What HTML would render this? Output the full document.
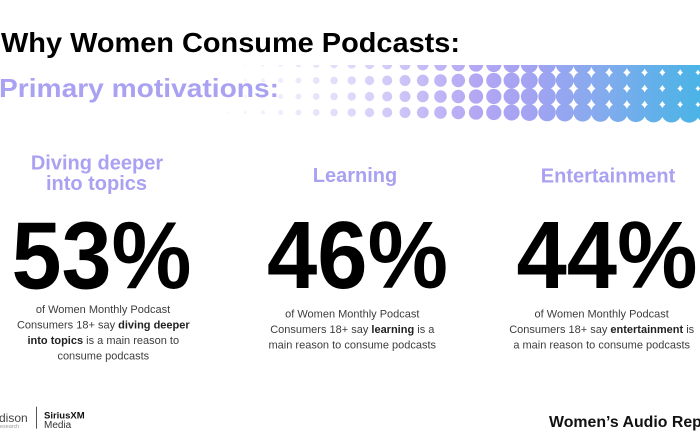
<!DOCTYPE html>
<html>
<head>
<meta charset="utf-8">
<style>
html,body{margin:0;padding:0;background:#fff;}
body{width:700px;height:441px;overflow:hidden;}
svg{display:block;}
text{font-family:"Liberation Sans",Arial,sans-serif;}
</style>
</head>
<body>
<svg width="700" height="441" viewBox="0 0 700 441" xmlns="http://www.w3.org/2000/svg">
  <defs>
    <linearGradient id="g" gradientUnits="userSpaceOnUse" x1="230" y1="0" x2="700" y2="0">
      <stop offset="0" stop-color="#f8f7fe"/>
      <stop offset="0.15" stop-color="#ebe8fc"/>
      <stop offset="0.28" stop-color="#dbd5fa"/>
      <stop offset="0.40" stop-color="#c7bdf6"/>
      <stop offset="0.53" stop-color="#b3a6f3"/>
      <stop offset="0.66" stop-color="#9fa3f2"/>
      <stop offset="0.79" stop-color="#84abee"/>
      <stop offset="0.89" stop-color="#66afea"/>
      <stop offset="1" stop-color="#4ab4e6"/>
    </linearGradient>
    <clipPath id="band"><rect x="0" y="65" width="700" height="70"/></clipPath>
  </defs>
  <rect width="700" height="441" fill="#fff"/>

  <g clip-path="url(#band)" fill="url(#g)">
    <g><circle cx="227.4" cy="64.5" r="1.2"/><circle cx="227.4" cy="80.5" r="1.2"/><circle cx="227.4" cy="96.5" r="1.2"/><circle cx="227.4" cy="112.5" r="1.2"/></g>
    <g><circle cx="245.2" cy="64.5" r="1.62"/><circle cx="245.2" cy="80.5" r="1.62"/><circle cx="245.2" cy="96.5" r="1.62"/><circle cx="245.2" cy="112.5" r="1.62"/></g>
    <g><circle cx="262.9" cy="64.5" r="2.05"/><circle cx="262.9" cy="80.5" r="2.05"/><circle cx="262.9" cy="96.5" r="2.05"/><circle cx="262.9" cy="112.5" r="2.05"/></g>
    <g><circle cx="280.7" cy="64.5" r="2.48"/><circle cx="280.7" cy="80.5" r="2.48"/><circle cx="280.7" cy="96.5" r="2.48"/><circle cx="280.7" cy="112.5" r="2.48"/></g>
    <g><circle cx="298.4" cy="64.5" r="2.9"/><circle cx="298.4" cy="80.5" r="2.9"/><circle cx="298.4" cy="96.5" r="2.9"/><circle cx="298.4" cy="112.5" r="2.9"/></g>
    <g><circle cx="316.2" cy="64.5" r="3.33"/><circle cx="316.2" cy="80.5" r="3.33"/><circle cx="316.2" cy="96.5" r="3.33"/><circle cx="316.2" cy="112.5" r="3.33"/></g>
    <g><circle cx="334" cy="64.5" r="3.76"/><circle cx="334" cy="80.5" r="3.76"/><circle cx="334" cy="96.5" r="3.76"/><circle cx="334" cy="112.5" r="3.76"/></g>
    <g><circle cx="351.7" cy="64.5" r="4.18"/><circle cx="351.7" cy="80.5" r="4.18"/><circle cx="351.7" cy="96.5" r="4.18"/><circle cx="351.7" cy="112.5" r="4.18"/></g>
    <g><circle cx="369.5" cy="64.5" r="4.61"/><circle cx="369.5" cy="80.5" r="4.61"/><circle cx="369.5" cy="96.5" r="4.61"/><circle cx="369.5" cy="112.5" r="4.61"/></g>
    <g><circle cx="387.2" cy="64.5" r="5.03"/><circle cx="387.2" cy="80.5" r="5.03"/><circle cx="387.2" cy="96.5" r="5.03"/><circle cx="387.2" cy="112.5" r="5.03"/></g>
    <g><circle cx="405" cy="64.5" r="5.46"/><circle cx="405" cy="80.5" r="5.46"/><circle cx="405" cy="96.5" r="5.46"/><circle cx="405" cy="112.5" r="5.46"/></g>
    <g><circle cx="422.8" cy="64.5" r="5.89"/><circle cx="422.8" cy="80.5" r="5.89"/><circle cx="422.8" cy="96.5" r="5.89"/><circle cx="422.8" cy="112.5" r="5.89"/></g>
    <g><circle cx="440.5" cy="64.5" r="6.31"/><circle cx="440.5" cy="80.5" r="6.31"/><circle cx="440.5" cy="96.5" r="6.31"/><circle cx="440.5" cy="112.5" r="6.31"/></g>
    <g><circle cx="458.3" cy="64.5" r="6.74"/><circle cx="458.3" cy="80.5" r="6.74"/><circle cx="458.3" cy="96.5" r="6.74"/><circle cx="458.3" cy="112.5" r="6.74"/></g>
    <g><circle cx="476" cy="64.5" r="7.16"/><circle cx="476" cy="80.5" r="7.16"/><circle cx="476" cy="96.5" r="7.16"/><circle cx="476" cy="112.5" r="7.16"/></g>
    <g><circle cx="493.8" cy="64.5" r="7.59"/><circle cx="493.8" cy="80.5" r="7.59"/><circle cx="493.8" cy="96.5" r="7.59"/><circle cx="493.8" cy="112.5" r="7.59"/></g>
    <g><circle cx="511.6" cy="64.5" r="8.02"/><circle cx="511.6" cy="80.5" r="8.02"/><circle cx="511.6" cy="96.5" r="8.02"/><circle cx="511.6" cy="112.5" r="8.02"/></g>
    <g><circle cx="529.3" cy="64.5" r="8.44"/><circle cx="529.3" cy="80.5" r="8.44"/><circle cx="529.3" cy="96.5" r="8.44"/><circle cx="529.3" cy="112.5" r="8.44"/></g>
    <g><circle cx="547.1" cy="64.5" r="8.77"/><circle cx="547.1" cy="80.5" r="8.77"/><circle cx="547.1" cy="96.5" r="8.77"/><circle cx="547.1" cy="112.5" r="8.77"/></g>
    <g><circle cx="564.8" cy="64.5" r="8.95"/><circle cx="564.8" cy="80.5" r="8.95"/><circle cx="564.8" cy="96.5" r="8.95"/><circle cx="564.8" cy="112.5" r="8.95"/></g>
    <g><circle cx="582.6" cy="64.5" r="9.13"/><circle cx="582.6" cy="80.5" r="9.13"/><circle cx="582.6" cy="96.5" r="9.13"/><circle cx="582.6" cy="112.5" r="9.13"/></g>
    <g><circle cx="600.4" cy="64.5" r="9.3"/><circle cx="600.4" cy="80.5" r="9.3"/><circle cx="600.4" cy="96.5" r="9.3"/><circle cx="600.4" cy="112.5" r="9.3"/></g>
    <g><circle cx="618.1" cy="64.5" r="9.48"/><circle cx="618.1" cy="80.5" r="9.48"/><circle cx="618.1" cy="96.5" r="9.48"/><circle cx="618.1" cy="112.5" r="9.48"/></g>
    <g><circle cx="635.9" cy="64.5" r="9.66"/><circle cx="635.9" cy="80.5" r="9.66"/><circle cx="635.9" cy="96.5" r="9.66"/><circle cx="635.9" cy="112.5" r="9.66"/></g>
    <g><circle cx="653.6" cy="64.5" r="9.84"/><circle cx="653.6" cy="80.5" r="9.84"/><circle cx="653.6" cy="96.5" r="9.84"/><circle cx="653.6" cy="112.5" r="9.84"/></g>
    <g><circle cx="671.4" cy="64.5" r="10.01"/><circle cx="671.4" cy="80.5" r="10.01"/><circle cx="671.4" cy="96.5" r="10.01"/><circle cx="671.4" cy="112.5" r="10.01"/></g>
    <g><circle cx="689.2" cy="64.5" r="10.19"/><circle cx="689.2" cy="80.5" r="10.19"/><circle cx="689.2" cy="96.5" r="10.19"/><circle cx="689.2" cy="112.5" r="10.19"/></g>
    <g><circle cx="706.9" cy="64.5" r="10.37"/><circle cx="706.9" cy="80.5" r="10.37"/><circle cx="706.9" cy="96.5" r="10.37"/><circle cx="706.9" cy="112.5" r="10.37"/></g>
  </g>

  <!-- Title -->
  <text x="1" y="52" font-size="28" font-weight="bold" fill="#000" textLength="459" lengthAdjust="spacingAndGlyphs">Why Women Consume Podcasts:</text>
  <text x="-1" y="97" font-size="26" font-weight="bold" fill="#a9a1f1" textLength="280" lengthAdjust="spacingAndGlyphs">Primary motivations:</text>

  <!-- Headings -->
  <g font-size="20" font-weight="bold" fill="#a9a1f1" text-anchor="middle">
    <text x="97" y="169.5">Diving deeper</text>
    <text x="96.5" y="190">into topics</text>
    <text x="355" y="182">Learning</text>
    <text x="608" y="182.5">Entertainment</text>
  </g>

  <!-- Big numbers -->
  <g font-size="96" font-weight="bold" fill="#000">
    <text x="11.5" y="288.5" textLength="180" lengthAdjust="spacingAndGlyphs">53%</text>
    <text x="267" y="288" textLength="181" lengthAdjust="spacingAndGlyphs">46%</text>
    <text x="516.5" y="288" textLength="181" lengthAdjust="spacingAndGlyphs">44%</text>
  </g>

  <!-- Body text -->
  <g font-size="11" fill="#3c3c3c" text-anchor="middle">
    <text x="103" y="313">of Women Monthly Podcast</text>
    <text x="103.3" y="328.5">Consumers 18+ say <tspan font-weight="bold" fill="#222">diving deeper</tspan></text>
    <text x="103.3" y="344"><tspan font-weight="bold" fill="#222">into topics</tspan> is a main reason to</text>
    <text x="103.3" y="359.5">consume podcasts</text>

    <text x="352.3" y="317.5">of Women Monthly Podcast</text>
    <text x="352.3" y="333">Consumers 18+ say <tspan font-weight="bold" fill="#222">learning</tspan> is a</text>
    <text x="352.3" y="348.5">main reason to consume podcasts</text>

    <text x="601.7" y="317.5">of Women Monthly Podcast</text>
    <text x="601.7" y="333">Consumers 18+ say <tspan font-weight="bold" fill="#222">entertainment</tspan> is</text>
    <text x="601.7" y="348.5">a main reason to consume podcasts</text>
  </g>

  <!-- Footer logos -->
  <text x="-1" y="422" font-size="12" fill="#444">dison</text>
  <text x="0" y="428" font-size="5.4" fill="#999">esearch</text>
  <rect x="36" y="406.7" width="1" height="22" fill="#555"/>
  <text x="44" y="418.5" font-size="9.5" font-weight="bold" fill="#111">SiriusXM</text>
  <text x="44" y="428" font-size="10" fill="#333">Media</text>

  <text x="549" y="427" font-size="16" font-weight="bold" fill="#111" textLength="174" lengthAdjust="spacingAndGlyphs">Women’s Audio Report</text>
</svg>
</body>
</html>
